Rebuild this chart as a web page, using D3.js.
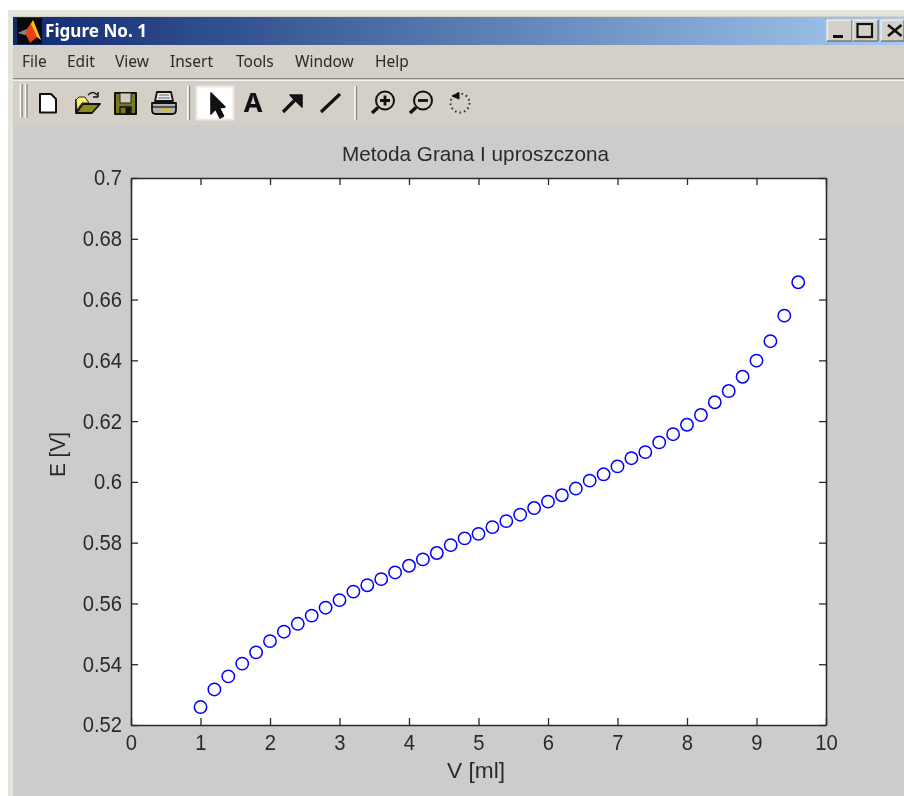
<!DOCTYPE html>
<html>
<head>
<meta charset="utf-8">
<title>Metoda Grana I uproszczona</title>
<script src="https://cdn.jsdelivr.net/npm/d3@7"></script>
<style>
  html, body { margin: 0; padding: 0; background: #fff; }
  svg { display: block; filter: blur(0.45px); }
  text { font-family: "Liberation Sans", Arial, sans-serif; }
</style>
</head>
<body>
<div id="chart"></div>
<script>
const volumes = [1, 1.2, 1.4, 1.6, 1.8, 2, 2.2, 2.4, 2.6, 2.8, 3, 3.2, 3.4, 3.6, 3.8, 4, 4.2, 4.4, 4.6, 4.8, 5, 5.2,
  5.4, 5.6, 5.8, 6, 6.2, 6.4, 6.6, 6.8, 7, 7.2, 7.4, 7.6, 7.8, 8, 8.2, 8.4, 8.6, 8.8, 9, 9.2, 9.4, 9.6];
const potentials = [0.5259, 0.5317, 0.536, 0.5402, 0.5439, 0.5476, 0.5507, 0.5533, 0.556, 0.5586, 0.5611, 0.5639,
  0.566, 0.568, 0.5702, 0.5724, 0.5745, 0.5766, 0.5792, 0.5814, 0.5829, 0.5851, 0.5871, 0.5892, 0.5914, 0.5935,
  0.5956, 0.5978, 0.6004, 0.6025, 0.6051, 0.6078, 0.6098, 0.613, 0.6157, 0.6188, 0.622, 0.6262, 0.6299, 0.6346,
  0.6399, 0.6463, 0.6547, 0.6657];
const xTicks = [0, 1, 2, 3, 4, 5, 6, 7, 8, 9, 10];
const yTicks = [0.52, 0.54, 0.56, 0.58, 0.6, 0.62, 0.64, 0.66, 0.68, 0.7];
const menuItems = ['File', 'Edit', 'View', 'Insert', 'Tools', 'Window', 'Help'];
const menuX = [22, 67, 115, 170, 236, 295, 375];

const w = 904, h = 796;
const margin = { top: 178, right: 78, bottom: 71, left: 131 };
const faceCol = '#d4d0c8', figCol = '#cccccc', inkCol = '#2a2a2a';

const svg = d3.select('#chart').append('svg').attr('width', w).attr('height', h);

// the matlab text is tall and narrow, so squeeze it to the measured width
function fitWidth(sel, width) {
  sel.each(function() {
    const len = typeof width === 'function' ? width(this.getComputedTextLength()) : width;
    d3.select(this).attr('textLength', len).attr('lengthAdjust', 'spacingAndGlyphs');
  });
}

// window frame
svg.append('rect').attr('x', 8).attr('y', 10).attr('width', w - 8).attr('height', h - 10).attr('fill', '#e6e3dc');
svg.append('rect').attr('x', 13).attr('y', 16).attr('width', w - 13).attr('height', h - 16).attr('fill', faceCol);
svg.append('rect').attr('x', 13).attr('y', 125).attr('width', w - 13).attr('height', h - 125).attr('fill', figCol);

const grad = svg.append('defs').append('linearGradient').attr('id', 'titlebar');
grad.append('stop').attr('offset', '0').attr('stop-color', '#0f2a70');
grad.append('stop').attr('offset', '1').attr('stop-color', '#a6caf0');
svg.append('rect').attr('x', 13).attr('y', 17).attr('width', w - 13).attr('height', 28).attr('fill', 'url(#titlebar)');

// matlab logo
svg.append('rect').attr('x', 17).attr('y', 18).attr('width', 25).attr('height', 26).attr('fill', '#0a0a0a');
svg.append('path').attr('d', 'M18 33 L27 29 L33 20 L41 40 L37 37 L30 43 L26 35 Z').attr('fill', '#e8401a');
svg.append('path').attr('d', 'M31 24 L33 20 L41 40 L37 37 Z').attr('fill', '#f5c21b');
svg.append('path').attr('d', 'M18 33 L27 29 L25 35 Z').attr('fill', '#6f8f8f');

svg.append('text').attr('x', 45).attr('y', 37).attr('fill', '#fff')
  .style('font-family', '"Noto Sans"').style('font-weight', 700).style('font-size', '17px')
  .text('Figure No. 1')
  .call(fitWidth, 102);

// title bar buttons
const btnX = [827, 853, 881];
const btnW = [25, 25, 23];
const btn = svg.append('g').selectAll('g').data(btnX).join('g')
  .attr('transform', d => `translate(${d}, 20)`);
btn.append('rect').attr('width', (d, i) => btnW[i]).attr('height', 21).attr('fill', faceCol);
btn.append('path').attr('d', (d, i) => `M0 21 V0 H${btnW[i]}`).attr('fill', 'none').attr('stroke', '#fff');
btn.append('path').attr('d', (d, i) => `M0 21 H${btnW[i]} V0`).attr('fill', 'none').attr('stroke', '#555');
svg.append('path').attr('d', 'M833 36.5 H843').attr('stroke', '#111').attr('stroke-width', 3);
svg.append('rect').attr('x', 857.5).attr('y', 24).attr('width', 14.5).attr('height', 13)
  .attr('fill', 'none').attr('stroke', '#111').attr('stroke-width', 2.2);
svg.append('path').attr('d', 'M888 25 L901.5 36 M901.5 25 L888 36').attr('stroke', '#111').attr('stroke-width', 2.6);

// menu
svg.append('g').selectAll('text').data(menuItems).join('text')
  .attr('x', (d, i) => menuX[i]).attr('y', 67)
  .attr('fill', inkCol)
  .style('font-family', '"Noto Sans"').style('font-size', '15.5px')
  .text(d => d);
svg.append('path').attr('d', `M13 78.5 H${w}`).attr('stroke', '#8a8780');
svg.append('path').attr('d', `M13 80.5 H${w}`).attr('stroke', '#f4f2ee');

// toolbar
const ridge = (x, y1, y2) => {
  svg.append('path').attr('d', `M${x} ${y1} V${y2}`).attr('stroke', '#fff').attr('stroke-width', 1.5);
  svg.append('path').attr('d', `M${x + 1.5} ${y1} V${y2}`).attr('stroke', '#85827b').attr('stroke-width', 1.2);
};
ridge(20.5, 84, 118);
ridge(25.5, 84, 118);
ridge(188, 86, 120);
ridge(355, 86, 120);

svg.append('rect').attr('x', 196.5).attr('y', 86.5).attr('width', 37).attr('height', 33)
  .attr('fill', '#fff').attr('stroke', '#ece9e3').attr('stroke-width', 2);

const icon = (d, fill, stroke = '#111', sw = 1.6) => svg.append('path').attr('d', d)
  .attr('fill', fill).attr('stroke', stroke).attr('stroke-width', sw).attr('stroke-linejoin', 'round');

// new
icon('M40 94 H51 L56 99 V112.5 H40 Z', '#fff', '#111', 2);
// open
icon('M76 100 V113 H92 L100 104 H83 L76 113 Z', '#8a8a1e', '#111', 1.8);
icon('M76 100 L79 97 H85 L89 103 L82 103 L77 110 Z', '#f6f06a', '#222', 1);
icon('M88 95 Q93 90 97 95 M98 92 V97 H93', 'none', '#111', 1.5);
// save
icon('M115 93 H136 V114 H115 Z', '#77771c', '#111', 2);
icon('M120 93 H131 V103 H120 Z', '#cfcdbb', '#222', 1);
icon('M120 107 H131 V114 H120 Z', '#77771c', '#111', 1.4);
icon('M126 108 H130 V113 H126 Z', '#111', '#111', 1);
// print
icon('M157 92 H171 L173 101 H155 Z', '#e8e8e8', '#111', 1.8);
icon('M159 95 H169 M158 98 H170', 'none', '#666', 1);
icon('M152 103 H176 V110 Q176 114 172 114 H156 Q152 114 152 110 Z', '#b4b2aa', '#111', 1.8);
icon('M152 107 H176', 'none', '#111', 1.2);
icon('M162 110 H170', 'none', '#e0c020', 2.2);
// pointer
icon('M211 93 V114 L215.5 109 L220 118 L223.5 116 L219.5 108 L225 107 Z', '#111', '#111', 1.6);
svg.append('text').attr('x', 253).attr('y', 112).attr('text-anchor', 'middle').attr('fill', '#111')
  .style('font-family', '"Noto Sans"').style('font-weight', 700).style('font-size', '27px').text('A');
// arrow and line
icon('M283 112 L299 96', 'none', '#111', 3.4);
icon('M290 95 H302 V107 Z', '#111', '#111', 1.6);
icon('M321 112 L340 94', 'none', '#111', 3.2);
// zoom in, zoom out
[[385, true], [423, false]].forEach(([cx, plus]) => {
  svg.append('circle').attr('cx', cx).attr('cy', 100.5).attr('r', 9)
    .attr('fill', 'none').attr('stroke', '#111').attr('stroke-width', 2);
  icon(`M${cx - 7} 107.5 L${cx - 13} 113`, 'none', '#111', 3.4);
  icon(`M${cx - 5} 100.5 H${cx + 5}` + (plus ? ` M${cx} 95.5 V105.5` : ''), 'none', '#111', 2.8);
});
// rotate
svg.append('circle').attr('cx', 460).attr('cy', 103).attr('r', 9.5)
  .attr('fill', 'none').attr('stroke', '#333').attr('stroke-width', 2).attr('stroke-dasharray', '1.6 3');
icon('M452 96 L459 92.5 L459 99 Z', '#111', '#111', 1);

// axes
const x = d3.scaleLinear().domain([0, 10]).range([margin.left, w - margin.right]);
const y = d3.scaleLinear().domain([0.52, 0.7]).range([h - margin.bottom, margin.top]);

svg.append('rect')
  .attr('x', x(0)).attr('y', y(0.7))
  .attr('width', x(10) - x(0)).attr('height', y(0.52) - y(0.7))
  .attr('fill', '#fff');

const tickLen = 7;
const styleAxis = g => {
  g.selectAll('path.domain').attr('stroke', inkCol).attr('stroke-width', 1.6);
  g.selectAll('line').attr('stroke', inkCol).attr('stroke-width', 1.3);
  g.selectAll('text').attr('fill', inkCol).style('font-size', '21.5px')
    .call(fitWidth, len => len * 0.94);
};

svg.append('g').attr('transform', `translate(0, ${y(0.52)})`)
  .call(d3.axisBottom(x).tickValues(xTicks).tickFormat(d3.format('d')).tickSizeInner(-tickLen).tickSizeOuter(0).tickPadding(tickLen + 3))
  .call(styleAxis);
svg.append('g').attr('transform', `translate(0, ${y(0.7)})`)
  .call(d3.axisTop(x).tickValues(xTicks).tickFormat('').tickSizeInner(-tickLen).tickSizeOuter(0))
  .call(styleAxis);
svg.append('g').attr('transform', `translate(${x(0)}, 0)`)
  .call(d3.axisLeft(y).tickValues(yTicks).tickFormat(d => String(+d.toFixed(2))).tickSizeInner(-tickLen).tickSizeOuter(0).tickPadding(tickLen + 2))
  .call(styleAxis);
svg.append('g').attr('transform', `translate(${x(10)}, 0)`)
  .call(d3.axisRight(y).tickValues(yTicks).tickFormat('').tickSizeInner(-tickLen).tickSizeOuter(0))
  .call(styleAxis);

// labels
svg.append('text').attr('x', 475.5).attr('y', 161).attr('text-anchor', 'middle')
  .attr('fill', inkCol).style('font-size', '21px').text('Metoda Grana I uproszczona')
  .call(fitWidth, 267);
svg.append('text').attr('x', 476).attr('y', 778).attr('text-anchor', 'middle')
  .attr('fill', inkCol).style('font-size', '21.5px').text('V [ml]')
  .call(fitWidth, 58);
svg.append('text').attr('transform', `translate(65, 454.5) rotate(-90)`).attr('text-anchor', 'middle')
  .attr('fill', inkCol).style('font-size', '21.5px').text('E [V]')
  .call(fitWidth, 45);

// points
svg.append('g').selectAll('circle')
  .data(volumes)
  .join('circle')
  .attr('cx', d => x(d))
  .attr('cy', (d, i) => y(potentials[i]))
  .attr('r', 6.2)
  .attr('fill', 'none')
  .attr('stroke', '#0000ff')
  .attr('stroke-width', 1.5);
</script>
</body>
</html>
